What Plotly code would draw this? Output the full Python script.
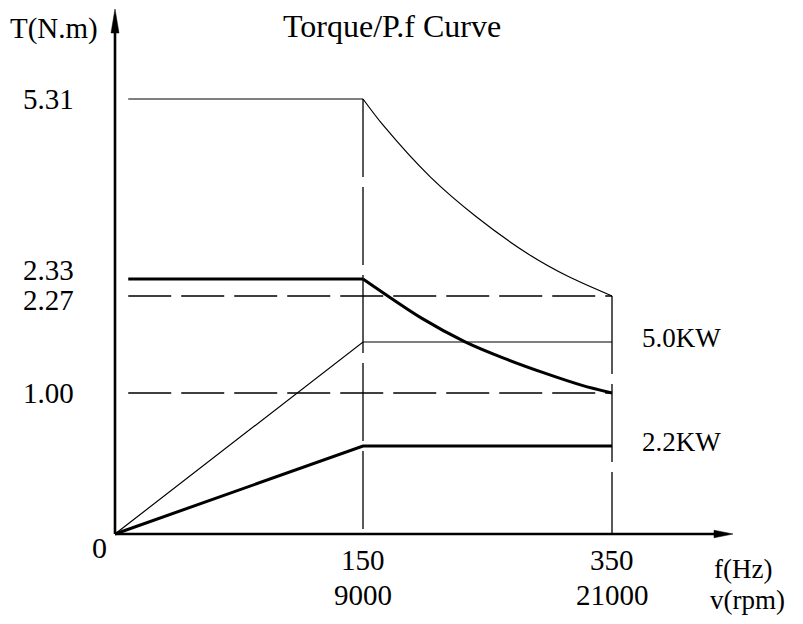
import numpy as np
import plotly.graph_objects as go

# ---------------- data ----------------
freq_ticks = [0, 150, 350]            # Hz
rpm_ticks = [0, 9000, 21000]          # rpm
torque_ticks = [0, 1.00, 2.27, 2.33, 5.31]   # N.m
power_ticks = [0, 2.2, 5.0]           # kW

# 5.0 kW torque curve
t50_freq = [8, 150, 166, 204, 241, 283, 315, 350]
t50_torque = [5.31, 5.31, 4.88, 4.02, 3.36, 2.74, 2.37, 2.27]
# 2.2 kW torque curve
t22_freq = [8, 150, 197, 232, 264, 296, 326, 350]
t22_torque = [2.33, 2.33, 1.98, 1.67, 1.45, 1.26, 1.10, 1.00]
# power curves
p_freq = [0, 150, 350]
p50_power = [0, 5.0, 5.0]
p22_power = [0, 2.2, 2.2]

# reference (dashed) lines
ref_h_torque = [2.27, 1.00]
ref_h_freq = [8, 350]
ref_v_freq = [150, 350]
ref_v_top = [5.31, 2.27]

power_labels = ["5.0KW", "2.2KW"]
title_text = "Torque/P.f Curve"

# ---------------- schematic (non-linear) drawing scales ----------------
FREQ_POS = [0, 248, 497]
TORQUE_POS = [0, 141, 238, 255, 435]
POWER_POS = [0, 88, 192]

def xs(f):
    return np.interp(f, freq_ticks, FREQ_POS)

def ys(t):
    return np.interp(t, torque_ticks, TORQUE_POS)

def ps(p):
    return np.interp(p, power_ticks, POWER_POS)

FONT = "Liberation Serif"
fig = go.Figure()

def line(x, y, width, dash="solid", shape="linear"):
    fig.add_trace(go.Scatter(
        x=x, y=y, mode="lines", hoverinfo="skip", showlegend=False,
        line=dict(color="black", width=width, dash=dash, shape=shape, smoothing=0.8)))

# dashed reference lines
for t in ref_h_torque:
    line(xs(ref_h_freq), ys([t, t]), 1.3, dash="43px,10px")
for f, top in zip(ref_v_freq, ref_v_top):
    line(xs([f, f]), ys([top, 0]), 1.3, dash="78px,10px")

# torque curves
line(xs(t50_freq[:2]), ys(t50_torque[:2]), 1.2)
line(xs(t50_freq[1:]), ys(t50_torque[1:]), 1.2, shape="spline")
line(xs(t22_freq[:2]), ys(t22_torque[:2]), 3)
line(xs(t22_freq[1:]), ys(t22_torque[1:]), 3, shape="spline")

# power curves
line(xs(p_freq), ps(p50_power), 1.2)
line(xs(p_freq), ps(p22_power), 3)

# ---------------- axes with arrows ----------------
x_end = 618
y_end = 525
shapes = [
    dict(type="line", x0=0, y0=0, x1=x_end - 14, y1=0, line=dict(color="black", width=2.6)),
    dict(type="line", x0=0, y0=0, x1=0, y1=y_end - 18, line=dict(color="black", width=2.6)),
    dict(type="path", path=f"M {x_end-19} -3.8 L {x_end} 0 L {x_end-19} 3.8 Z",
         fillcolor="black", line=dict(color="black", width=0.5)),
    dict(type="path", path=f"M -4 {y_end-24} L 0 {y_end} L 4 {y_end-24} Z",
         fillcolor="black", line=dict(color="black", width=0.5)),
]

ann = []
def text(x, y, s, size=29, xanchor="center", yshift=0):
    ann.append(dict(x=x, y=y, text=s, showarrow=False, xanchor=xanchor, yanchor="middle",
                    yshift=yshift, font=dict(family=FONT, size=size, color="black")))

# y tick labels
yshifts = {5.31: 0, 2.33: 9, 2.27: -4, 1.00: 0}
for t in torque_ticks[1:]:
    text(-39, ys(t), f"{t:.2f}", size=29, xanchor="right", yshift=yshifts[t])
text(-16, -13, "0", size=30)

# x tick labels
for f, r in zip(freq_ticks[1:], rpm_ticks[1:]):
    text(xs(f), -26, str(f))
    text(xs(f), -61, str(r))
text(597, -35, "f(Hz)", size=27, xanchor="left")
text(593, -66, "v(rpm)", size=27, xanchor="left")

# axis title and chart title
text(-107, 506, "T(N.m)", xanchor="left")
text(277, 508, title_text, size=32)

# power labels
for p, lab in zip(power_ticks[::-1][:2], power_labels):
    text(525, ps(p) + 4, lab, size=27, xanchor="left")

# page body adds an 8px offset: the figure is 8px smaller and ranges compensate
fig.update_layout(
    width=795, height=616,
    margin=dict(l=0, r=0, t=0, b=0),
    paper_bgcolor="white", plot_bgcolor="white",
    xaxis=dict(range=[-107, 688], visible=False, fixedrange=True),
    yaxis=dict(range=[-90, 526], visible=False, fixedrange=True),
    shapes=shapes, annotations=ann, showlegend=False,
)

fig.write_html("out.html")
